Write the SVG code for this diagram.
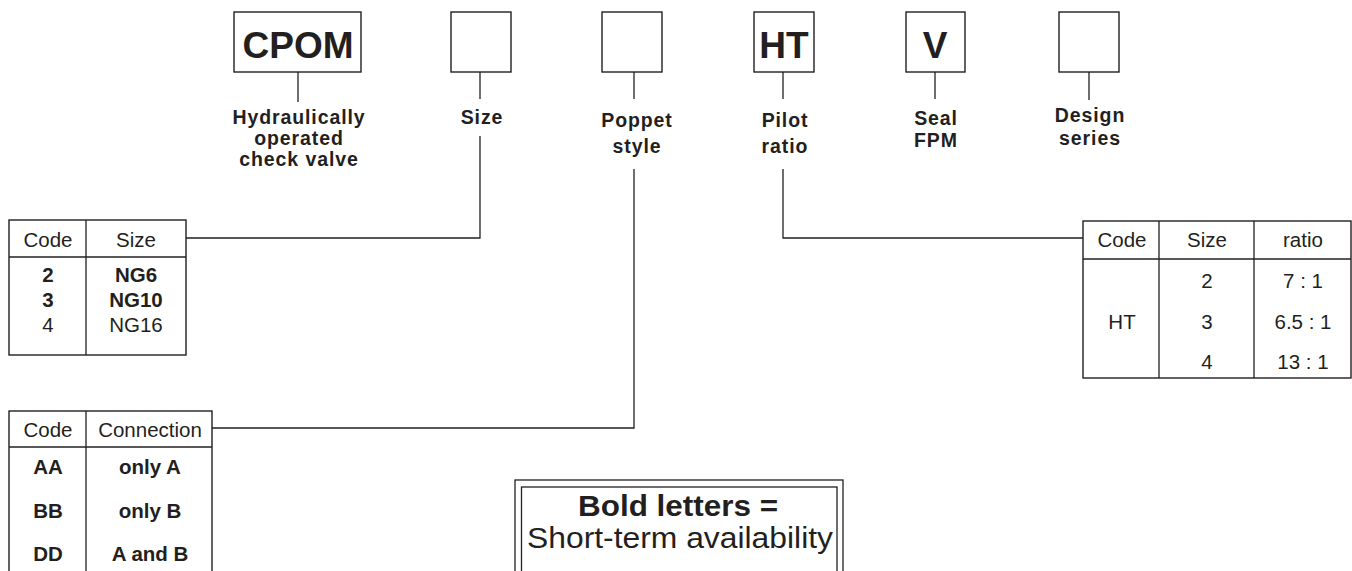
<svg xmlns="http://www.w3.org/2000/svg" width="1352" height="571" viewBox="0 0 1352 571">
<style>
.bx{fill:none;stroke:#231f20;stroke-width:1.4}
.ln{fill:none;stroke:#231f20;stroke-width:1.3}
.big{font-family:"Liberation Sans",Arial,sans-serif;font-weight:bold;font-size:37px;fill:#231f20;text-anchor:middle}
.lab{font-family:"Liberation Sans",Arial,sans-serif;font-weight:bold;font-size:19.5px;fill:#231f20;text-anchor:middle;letter-spacing:0.9px}
.t{font-family:"Liberation Sans",Arial,sans-serif;font-size:20.5px;fill:#231f20;text-anchor:middle}
.tb{font-family:"Liberation Sans",Arial,sans-serif;font-weight:bold;font-size:20.5px;fill:#231f20;text-anchor:middle}
.note{font-family:"Liberation Sans",Arial,sans-serif;fill:#231f20;text-anchor:middle}
</style>
<rect width="1352" height="571" fill="#ffffff"/>

<g id="connectors">
  <line class="ln" x1="298" y1="72" x2="298" y2="102"/>
  <line class="ln" x1="480" y1="72" x2="480" y2="99"/>
  <polyline class="ln" points="480,136 480,238 186,238"/>
  <line class="ln" x1="634" y1="72" x2="634" y2="99"/>
  <polyline class="ln" points="634,169 634,428 212,428"/>
  <line class="ln" x1="783" y1="72" x2="783" y2="99"/>
  <polyline class="ln" points="783,169 783,238 1083,238"/>
  <line class="ln" x1="935" y1="72" x2="935" y2="99"/>
  <line class="ln" x1="1089" y1="72" x2="1089" y2="100"/>
</g>

<g id="node-cpom">
  <rect class="bx" x="234" y="12" width="127" height="60"/>
  <text class="big" x="298" y="58">CPOM</text>
  <text class="lab" x="299" y="124">Hydraulically</text>
  <text class="lab" x="299" y="145">operated</text>
  <text class="lab" x="299" y="166">check valve</text>
</g>

<g id="node-size">
  <rect class="bx" x="451" y="12" width="60" height="60"/>
  <text class="lab" x="482" y="124">Size</text>
</g>

<g id="node-poppet">
  <rect class="bx" x="602" y="12" width="60" height="60"/>
  <text class="lab" x="637" y="127">Poppet</text>
  <text class="lab" x="637" y="153">style</text>
</g>

<g id="node-pilot">
  <rect class="bx" x="754" y="12" width="60" height="60"/>
  <text class="big" x="784" y="58">HT</text>
  <text class="lab" x="785" y="127">Pilot</text>
  <text class="lab" x="785" y="153">ratio</text>
</g>

<g id="node-seal">
  <rect class="bx" x="906" y="12" width="59" height="60"/>
  <text class="big" x="935" y="58">V</text>
  <text class="lab" x="936" y="125">Seal</text>
  <text class="lab" x="936" y="147">FPM</text>
</g>

<g id="node-design">
  <rect class="bx" x="1059" y="12" width="60" height="60"/>
  <text class="lab" x="1090" y="122">Design</text>
  <text class="lab" x="1090" y="145">series</text>
</g>

<g id="table-size">
  <rect class="bx" x="9" y="220" width="177" height="135"/>
  <line class="ln" x1="86" y1="220" x2="86" y2="355"/>
  <line class="ln" x1="9" y1="257" x2="186" y2="257"/>
  <text class="t" x="48" y="247">Code</text>
  <text class="t" x="136" y="247">Size</text>
  <text class="tb" x="48" y="282">2</text>
  <text class="tb" x="136" y="282">NG6</text>
  <text class="tb" x="48" y="307">3</text>
  <text class="tb" x="136" y="307">NG10</text>
  <text class="t" x="48" y="332">4</text>
  <text class="t" x="136" y="332">NG16</text>
</g>

<g id="table-connection">
  <rect class="bx" x="9" y="411" width="203" height="175"/>
  <line class="ln" x1="86" y1="411" x2="86" y2="586"/>
  <line class="ln" x1="9" y1="447" x2="212" y2="447"/>
  <text class="t" x="48" y="437">Code</text>
  <text class="t" x="150" y="437">Connection</text>
  <text class="tb" x="48" y="474">AA</text>
  <text class="tb" x="150" y="474">only A</text>
  <text class="tb" x="48" y="518">BB</text>
  <text class="tb" x="150" y="518">only B</text>
  <text class="tb" x="48" y="561">DD</text>
  <text class="tb" x="150" y="561">A and B</text>
</g>

<g id="table-ratio">
  <rect class="bx" x="1083" y="221" width="268" height="157"/>
  <line class="ln" x1="1159" y1="221" x2="1159" y2="378"/>
  <line class="ln" x1="1254" y1="221" x2="1254" y2="378"/>
  <line class="ln" x1="1083" y1="259" x2="1351" y2="259"/>
  <text class="t" x="1122" y="247">Code</text>
  <text class="t" x="1207" y="247">Size</text>
  <text class="t" x="1303" y="247">ratio</text>
  <text class="t" x="1122" y="329">HT</text>
  <text class="t" x="1207" y="288">2</text>
  <text class="t" x="1303" y="288">7 : 1</text>
  <text class="t" x="1207" y="329">3</text>
  <text class="t" x="1303" y="329">6.5 : 1</text>
  <text class="t" x="1207" y="369">4</text>
  <text class="t" x="1303" y="369">13 : 1</text>
</g>

<g id="note">
  <rect class="ln" x="515" y="480" width="328" height="110" stroke-width="1.1"/>
  <rect class="ln" x="521.5" y="487" width="315.5" height="100" stroke-width="1.1"/>
  <text class="note" x="678" y="516" font-size="30" font-weight="bold" textLength="200" lengthAdjust="spacingAndGlyphs">Bold letters =</text>
  <text class="note" x="680" y="548" font-size="30" textLength="306" lengthAdjust="spacingAndGlyphs">Short-term availability</text>
</g>
</svg>
